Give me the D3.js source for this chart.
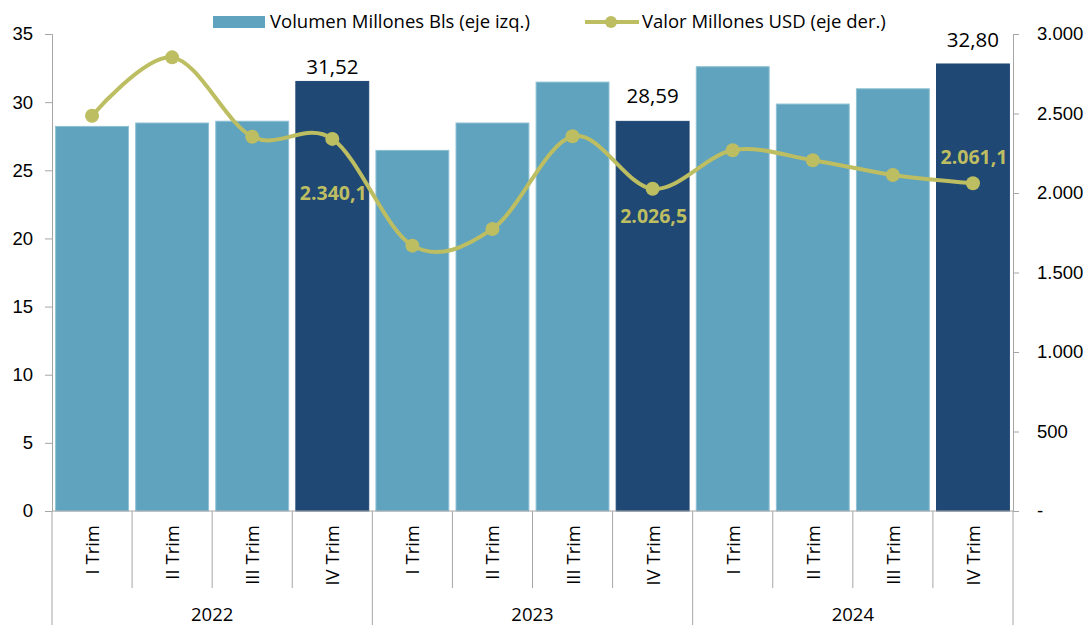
<!DOCTYPE html>
<html>
<head>
<meta charset="utf-8">
<script src="https://cdn.jsdelivr.net/npm/d3@7/dist/d3.min.js"></script>
<style>
  body { margin: 0; background: #fff; }
  svg { font-family: "Open Sans", "Noto Sans", sans-serif; }
</style>
</head>
<body>
<script>
// data
var years = ["2022", "2023", "2024"];
var quarters = ["I Trim", "II Trim", "III Trim", "IV Trim"];
var volumen = [28.22, 28.47, 28.6, 31.52, 26.46, 28.47, 31.47, 28.59, 32.6, 29.86, 30.98, 32.80];
var valor = [2486, 2853, 2354, 2340.1, 1669, 1774, 2357, 2026.5, 2269, 2206, 2113, 2061.1];
var leftTicks = [0, 5, 10, 15, 20, 25, 30, 35];
var rightTicks = [0, 500, 1000, 1500, 2000, 2500, 3000];

var W = 1088, H = 625;
var x0 = 52, x1 = 1013, yTop = 34, yBot = 511;
var light = "#5fa3bf", dark = "#1f4874", olive = "#bdbd62", grey = "#a6a6a6";
var fs = 18.5;

var cats = [];
years.forEach(function (y) {
  quarters.forEach(function (q) { cats.push(y + "|" + q); });
});

var svg = d3.select("body").append("svg")
  .attr("width", W)
  .attr("height", H);

var xScale = d3.scaleBand().domain(cats).range([x0, x1]).paddingInner(0.09).paddingOuter(0.045);
var yLeft = d3.scaleLinear().domain([0, 35]).range([yBot, yTop]);
var yRight = d3.scaleLinear().domain([0, 3000]).range([yBot, yTop]);
var step = (x1 - x0) / cats.length;

// bars
svg.append("g").selectAll("rect")
  .data(volumen)
  .join("rect")
  .attr("x", function (d, i) { return xScale(cats[i]); })
  .attr("y", function (d) { return yLeft(d); })
  .attr("width", xScale.bandwidth())
  .attr("height", function (d) { return yBot - yLeft(d); })
  .attr("fill", function (d, i) { return i % 4 === 3 ? dark : light; })
  .attr("stroke", function (d, i) { return i % 4 === 3 ? dark : "#8fc0d3"; })
  .attr("stroke-width", 1);

// left axis
var axL = svg.append("g")
  .attr("transform", "translate(" + x0 + ",0)")
  .call(d3.axisLeft(yLeft).tickValues(leftTicks).tickSize(7).tickPadding(12));
axL.select(".domain").attr("stroke", grey);
axL.selectAll(".tick line").attr("stroke", grey);
axL.selectAll("text").attr("font-size", fs).attr("fill", "#000");

// right axis
var fmtR = function (d) { return d === 0 ? "-" : d3.format(",")(d).replace(/,/g, "."); };
var axR = svg.append("g")
  .attr("transform", "translate(" + x1 + ",0)")
  .call(d3.axisRight(yRight).tickValues(rightTicks).tickFormat(fmtR).tickSize(6).tickPadding(18));
axR.select(".domain").attr("stroke", grey);
axR.selectAll(".tick line").attr("stroke", grey);
axR.selectAll("text").attr("font-size", fs).attr("fill", "#000");

// category axis
svg.append("line")
  .attr("x1", x0).attr("x2", x1).attr("y1", yBot).attr("y2", yBot)
  .attr("stroke", grey);
d3.range(cats.length + 1).forEach(function (k) {
  svg.append("line")
    .attr("x1", x0 + k * step).attr("x2", x0 + k * step)
    .attr("y1", yBot).attr("y2", k % 4 === 0 ? H : 588)
    .attr("stroke", grey);
});
svg.append("g").selectAll("text")
  .data(cats)
  .join("text")
  .attr("transform", function (d) {
    return "translate(" + (xScale(d) + xScale.bandwidth() / 2 + 7) + ",525) rotate(-90)";
  })
  .attr("text-anchor", "end")
  .attr("font-size", fs)
  .text(function (d) { return d.split("|")[1]; });
svg.append("g").selectAll("text")
  .data(years)
  .join("text")
  .attr("x", function (d, i) { return x0 + (i * 4 + 2) * step; })
  .attr("y", 621)
  .attr("text-anchor", "middle")
  .attr("font-size", fs)
  .text(function (d) { return d; });

// line
var cx = function (d, i) { return xScale(cats[i]) + xScale.bandwidth() / 2; };
var line = d3.line()
  .x(cx)
  .y(function (d) { return yRight(d); })
  .curve(d3.curveCatmullRom.alpha(0));
svg.append("path")
  .datum(valor)
  .attr("d", line)
  .attr("fill", "none")
  .attr("stroke", olive)
  .attr("stroke-width", 4);
svg.append("g").selectAll("circle")
  .data(valor)
  .join("circle")
  .attr("cx", cx)
  .attr("cy", function (d) { return yRight(d); })
  .attr("r", 7)
  .attr("fill", olive);

// labels on the IV Trim bars and points
var fmtL = function (d) { return d3.format(",.1f")(d).replace(/,/g, "#").replace(".", ",").replace(/#/g, "."); };
var barLift = { 3: 7, 7: 18, 11: 17 };
var valDrop = { 3: 61, 7: 34, 11: -19 };
[3, 7, 11].forEach(function (i) {
  svg.append("text")
    .attr("x", cx(null, i))
    .attr("y", yLeft(volumen[i]) - barLift[i])
    .attr("text-anchor", "middle")
    .attr("font-size", 20.5)
    .text(volumen[i].toFixed(2).replace(".", ","));
  svg.append("text")
    .attr("x", cx(null, i) + 1)
    .attr("y", yRight(valor[i]) + valDrop[i])
    .attr("text-anchor", "middle")
    .attr("font-size", 19.5)
    .attr("font-weight", "bold")
    .attr("fill", olive)
    .text(fmtL(valor[i]));
});

// legend
var lg = svg.append("g");
lg.append("rect").attr("x", 213).attr("y", 16).attr("width", 52).attr("height", 12).attr("fill", light);
lg.append("text").attr("x", 270).attr("y", 28).attr("font-size", fs).text("Volumen Millones Bls (eje izq.)");
lg.append("line").attr("x1", 585).attr("x2", 639).attr("y1", 22).attr("y2", 22)
  .attr("stroke", olive).attr("stroke-width", 4);
lg.append("circle").attr("cx", 611).attr("cy", 22).attr("r", 6).attr("fill", olive);
lg.append("text").attr("x", 642).attr("y", 28).attr("font-size", fs).text("Valor Millones USD (eje der.)");
</script>
</body>
</html>
